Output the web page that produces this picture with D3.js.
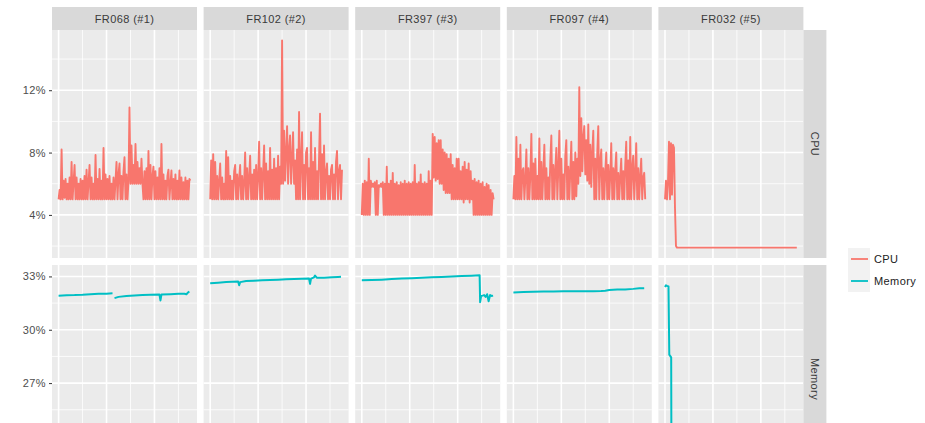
<!DOCTYPE html>
<html>
<head>
<meta charset="utf-8">
<script src="https://cdn.jsdelivr.net/npm/d3@7"></script>
<style>
  body { margin: 0; background: #fff; }
  svg { display: block; }
  text { font-family: "Liberation Sans", Arial, Helvetica, sans-serif; }
</style>
</head>
<body>
<svg id="chart" width="925" height="423"></svg>
<script>
// ---- data -------------------------------------------------------------
const servers = ["FR068 (#1)", "FR102 (#2)", "FR397 (#3)", "FR097 (#4)", "FR032 (#5)"];
const metrics = ["CPU", "Memory"];

// hourly CPU samples (%), hour 0 .. 132
const cpuFR068 = [
  5.0,5.6,5.0,8.2,5.0,6.2,5.1,6.3,5.0,6.0,
  5.0,6.4,5.0,7.4,5.0,6.1,7.2,5.0,6.4,5.0,
  6.0,5.0,6.3,5.0,6.2,5.0,6.5,5.0,6.9,5.0,
  6.1,7.2,5.0,6.4,5.0,6.0,5.0,7.85,5.0,6.3,
  5.0,6.95,5.0,6.2,5.0,8.3,5.0,6.6,5.0,6.3,
  5.0,6.5,5.0,6.0,5.0,6.4,5.0,6.2,7.4,5.0,
  6.6,7.3,5.0,6.5,5.0,6.8,7.7,5.0,6.6,5.0,
  6.2,10.9,6.0,8.45,6.0,7.2,6.0,8.55,6.0,7.4,
  6.0,7.0,6.0,7.6,6.0,5.0,6.8,5.0,7.0,5.0,
  8.1,5.0,7.2,5.0,6.5,7.1,5.0,6.8,5.0,6.4,
  5.0,7.0,5.0,8.55,5.0,6.6,5.0,6.2,5.0,6.5,
  6.9,5.0,6.0,6.85,5.0,6.3,5.0,6.6,5.0,6.2,
  5.0,6.85,5.0,6.4,5.0,6.1,5.0,6.4,5.0,6.2,
  5.0,6.3,6.2
];
const cpuFR102 = [
  5.0,7.5,5.0,7.9,5.0,7.4,5.0,6.5,5.0,6.2,
  7.3,5.0,6.4,5.0,6.0,5.0,8.1,5.0,7.7,5.0,
  6.5,5.0,6.2,5.0,6.8,7.2,5.0,6.6,5.0,6.3,
  7.2,5.0,6.5,5.0,6.1,8.0,5.0,7.0,5.0,6.4,
  7.8,5.0,6.6,5.0,6.9,5.0,7.2,5.0,6.5,8.7,
  5.0,7.0,5.0,6.7,8.45,5.0,7.3,5.0,6.8,5.0,
  8.3,5.0,6.9,5.0,7.6,5.0,7.0,5.0,7.8,5.0,
  7.1,6.0,15.2,6.0,9.4,6.2,8.0,9.7,6.0,8.2,
  9.1,6.0,7.6,9.3,6.0,7.5,5.0,8.2,5.0,10.6,
  5.0,7.5,9.3,5.0,7.2,5.0,8.0,8.3,5.0,7.0,
  5.0,9.3,5.0,7.4,5.0,8.3,5.0,6.8,5.0,7.6,
  10.5,5.0,7.9,5.0,8.45,5.0,6.7,7.3,5.0,6.5,
  5.0,6.9,7.2,5.0,6.6,5.0,7.4,8.1,5.0,6.8,
  7.2,5.0,6.9
];
const cpuFR397 = [
  4.0,6.0,4.0,6.2,4.0,6.1,4.0,7.6,4.0,6.2,
  5.8,6.0,5.8,6.1,4.0,6.2,4.0,5.9,5.8,6.0,
  5.8,6.1,4.0,6.0,4.0,7.1,4.0,6.0,4.0,6.2,
  4.0,6.7,4.0,6.0,4.0,6.1,4.0,5.9,4.0,6.1,
  4.0,6.0,4.0,6.2,4.0,6.0,4.0,6.1,4.0,6.0,
  4.0,6.1,4.0,7.2,4.0,6.0,4.0,6.1,4.0,6.6,
  4.0,6.0,4.0,6.1,4.0,6.0,4.0,6.8,4.0,6.2,
  4.0,9.2,6.4,9.0,6.2,8.6,6.3,8.8,6.0,8.8,
  6.0,8.2,5.6,8.0,5.4,7.9,5.4,7.6,5.4,7.9,
  5.0,7.2,5.0,7.0,5.0,7.6,5.0,7.6,5.0,6.8,
  5.0,7.1,4.8,7.4,5.0,6.9,5.0,7.3,4.8,6.8,
  5.0,6.2,4.0,6.3,4.0,6.1,4.0,6.2,4.0,6.0,
  4.0,6.1,4.0,5.8,4.0,6.0,4.0,5.9,4.0,5.6,
  4.0,5.4,5.0
];
const cpuFR097 = [
  5.0,6.5,5.0,9.0,5.0,7.6,5.0,8.5,5.0,6.8,
  7.0,5.0,6.3,8.2,5.0,7.0,5.0,6.6,9.2,5.0,
  7.3,5.0,7.6,5.0,6.5,5.0,8.9,5.0,7.4,5.0,
  6.8,8.5,5.0,7.0,5.0,6.4,5.0,7.5,9.1,5.0,
  7.2,5.0,6.9,8.3,5.0,7.0,9.4,5.0,7.6,5.0,
  6.6,5.0,7.8,8.8,5.0,7.1,5.0,6.8,8.7,5.0,
  7.4,5.0,8.0,5.2,7.6,6.0,12.2,6.5,10.2,6.8,
  9.0,9.7,6.6,8.8,6.2,9.8,6.0,8.5,5.8,8.0,
  9.4,5.0,7.6,5.0,8.0,9.7,5.0,7.4,8.2,5.0,
  7.0,5.0,6.8,8.0,5.0,7.2,5.0,6.6,8.6,5.0,
  7.0,5.0,6.9,8.0,5.0,6.7,5.0,6.5,7.6,5.0,
  6.8,5.0,7.2,8.7,5.0,7.5,5.0,9.0,5.0,7.0,
  7.8,5.0,6.6,8.6,5.0,7.0,5.0,6.5,7.6,5.0,
  6.4,6.7,5.0
];
const cpuFR032 = [
  5.0,6.2,5.0,6.1,8.7,5.0,8.6,5.3,8.5,8.3,
  4.5,2.0,1.9,1.9,1.9,1.9,1.9,1.9,1.9,1.9,
  1.9,1.9,1.9,1.9,1.9,1.9,1.9,1.9,1.9,1.9,
  1.9,1.9,1.9,1.9,1.9,1.9,1.9,1.9,1.9,1.9,
  1.9,1.9,1.9,1.9,1.9,1.9,1.9,1.9,1.9,1.9,
  1.9,1.9,1.9,1.9,1.9,1.9,1.9,1.9,1.9,1.9,
  1.9,1.9,1.9,1.9,1.9,1.9,1.9,1.9,1.9,1.9,
  1.9,1.9,1.9,1.9,1.9,1.9,1.9,1.9,1.9,1.9,
  1.9,1.9,1.9,1.9,1.9,1.9,1.9,1.9,1.9,1.9,
  1.9,1.9,1.9,1.9,1.9,1.9,1.9,1.9,1.9,1.9,
  1.9,1.9,1.9,1.9,1.9,1.9,1.9,1.9,1.9,1.9,
  1.9,1.9,1.9,1.9,1.9,1.9,1.9,1.9,1.9,1.9,
  1.9,1.9,1.9,1.9,1.9,1.9,1.9,1.9,1.9,1.9,
  1.9,1.9,1.9
];

// memory readings as [hour, %]; null marks a gap in the record
const memFR068 = [
  [0,31.92],[8,31.94],[16,31.95],[24,31.97],[32,32.0],[40,32.02],[48,32.03],[54,32.05],
  null,
  [56,31.78],[60,31.85],[68,31.9],[76,31.93],[84,31.95],[92,31.97],[101,31.98],
  [102,31.65],[103,31.98],[112,32.0],[120,32.02],[126,32.03],[128,32.0],[130,32.12],[131,32.15]
];
const memFR102 = [
  [0,32.62],[8,32.65],[16,32.68],[22,32.7],[28,32.72],[29,32.5],[30,32.68],[36,32.74],
  [44,32.76],[52,32.78],[60,32.8],[68,32.82],[76,32.84],[84,32.86],[92,32.87],[99,32.88],
  [100,32.58],[101,32.88],[104,32.95],[105,33.05],[107,32.92],[114,32.93],[122,32.95],
  [128,32.97],[131,32.98]
];
const memFR397 = [
  [0,32.78],[10,32.8],[20,32.82],[30,32.85],[40,32.88],[50,32.9],[60,32.92],[70,32.95],
  [80,32.97],[90,33.0],[100,33.02],[110,33.04],[118,33.06],[118.5,31.55],[119.5,31.9],
  [121,31.92],[122.5,31.95],[124,31.85],[125.5,32.0],[127,31.6],[128.5,31.95],[130,31.9],
  [131.5,31.92]
];
const memFR097 = [
  [0,32.1],[10,32.12],[20,32.14],[30,32.15],[40,32.15],[50,32.16],[60,32.17],[70,32.16],
  [80,32.17],[88,32.18],[92,32.2],[96,32.24],[104,32.26],[112,32.27],[120,32.3],
  [126,32.33],[131,32.34]
];
const memFR032 = [
  [0,32.4],[1,32.5],[2,32.47],[3.5,32.44],[4.3,28.6],[6.2,28.45],[6.5,21.4],[131,21.45]
];

const cpuTicks = [4, 8, 12];
const cpuMinorTicks = [2, 6, 10, 14];
const memTicks = [27, 30, 33];
const memMinorTicks = [22.5, 25.5, 28.5, 31.5];
const hourTicks = [0, 48, 96];
const hourMinorTicks = [24, 72, 120];
const hourSpan = [0, 132];

// ---- layout -----------------------------------------------------------
const svg = d3.select("#chart");
const left0 = 52, panelW = 145, gapX = 6.6;
const top0 = 7, stripH = 23, panelH = 228, gapY = 7;
const colCPU = "#F8766D", colMem = "#00BFC4";

const cpuSeries = [cpuFR068, cpuFR102, cpuFR397, cpuFR097, cpuFR032];
const memSeries = [memFR068, memFR102, memFR397, memFR097, memFR032];

function padded(ext) {
  const p = (ext[1] - ext[0]) * 0.05;
  return [ext[0] - p, ext[1] + p];
}

const cpuTop = top0 + stripH;
const memTop = cpuTop + panelH + gapY;

const yCpu = d3.scaleLinear()
  .domain(padded(d3.extent(cpuSeries.flat())))
  .range([cpuTop + panelH, cpuTop]);
const yMem = d3.scaleLinear()
  .domain(padded(d3.extent(memSeries.flat().filter(d => d).map(d => d[1]))))
  .range([memTop + panelH, memTop]);

const rows = [
  { key: "CPU", top: cpuTop, y: yCpu, major: cpuTicks, minor: cpuMinorTicks },
  { key: "Memory", top: memTop, y: yMem, major: memTicks, minor: memMinorTicks }
];

const panelLeft = i => left0 + i * (panelW + gapX);

servers.forEach((name, ci) => {
  const x0 = panelLeft(ci);
  const x = d3.scaleLinear().domain(padded(hourSpan)).range([x0, x0 + panelW]);

  // column strip
  svg.append("rect")
    .attr("x", x0).attr("y", top0).attr("width", panelW).attr("height", stripH)
    .attr("fill", "#d9d9d9");
  svg.append("text")
    .attr("x", x0 + panelW / 2).attr("y", top0 + stripH / 2 + 4)
    .attr("text-anchor", "middle")
    .attr("font-size", 11).attr("letter-spacing", 0.4)
    .attr("fill", "#3a3a3a")
    .text(name);

  rows.forEach((row, ri) => {
    const g = svg.append("g");
    g.append("rect")
      .attr("x", x0).attr("y", row.top).attr("width", panelW).attr("height", panelH)
      .attr("fill", "#ebebeb");

    const clipId = `clip-${ci}-${ri}`;
    g.append("clipPath").attr("id", clipId)
      .append("rect").attr("x", x0).attr("y", row.top).attr("width", panelW).attr("height", panelH);

    // minor grid
    g.selectAll(null).data(row.minor).enter().append("line")
      .attr("x1", x0).attr("x2", x0 + panelW)
      .attr("y1", d => row.y(d)).attr("y2", d => row.y(d))
      .attr("stroke", "#fff").attr("stroke-width", 0.8);
    g.selectAll(null).data(hourMinorTicks).enter().append("line")
      .attr("x1", d => x(d)).attr("x2", d => x(d))
      .attr("y1", row.top).attr("y2", row.top + panelH)
      .attr("stroke", "#fff").attr("stroke-width", 0.8);
    // major grid
    g.selectAll(null).data(row.major).enter().append("line")
      .attr("x1", x0).attr("x2", x0 + panelW)
      .attr("y1", d => row.y(d)).attr("y2", d => row.y(d))
      .attr("stroke", "#fff").attr("stroke-width", 1.6);
    g.selectAll(null).data(hourTicks).enter().append("line")
      .attr("x1", d => x(d)).attr("x2", d => x(d))
      .attr("y1", row.top).attr("y2", row.top + panelH)
      .attr("stroke", "#fff").attr("stroke-width", 1.6);

    if (row.key === "CPU") {
      const line = d3.line().x((d, i) => x(i)).y(d => row.y(d));
      g.append("path")
        .attr("clip-path", `url(#${clipId})`)
        .attr("d", line(cpuSeries[ci]))
        .attr("fill", "none").attr("stroke", colCPU)
        .attr("stroke-width", 1.9).attr("stroke-linejoin", "round");
    } else {
      const line = d3.line().defined(d => d).x(d => x(d[0])).y(d => row.y(d[1]));
      g.append("path")
        .attr("clip-path", `url(#${clipId})`)
        .attr("d", line(memSeries[ci]))
        .attr("fill", "none").attr("stroke", colMem)
        .attr("stroke-width", 2).attr("stroke-linejoin", "round");
    }
  });
});

// y axes on the first column
rows.forEach(row => {
  const ax = svg.append("g")
    .attr("transform", `translate(${left0},0)`)
    .call(d3.axisLeft(row.y).tickValues(row.major).tickFormat(d => d + "%")
      .tickSize(3).tickPadding(3));
  ax.select(".domain").remove();
  ax.selectAll(".tick line").attr("stroke", "#333").attr("stroke-width", 1);
  ax.selectAll(".tick text")
    .attr("font-size", 11).attr("letter-spacing", 0.4)
    .attr("fill", "#4d4d4d")
    .attr("font-family", null);
});

// row strips on the right
const stripX = panelLeft(servers.length - 1) + panelW;
rows.forEach(row => {
  svg.append("rect")
    .attr("x", stripX).attr("y", row.top).attr("width", stripH).attr("height", panelH)
    .attr("fill", "#d9d9d9");
  svg.append("text")
    .attr("transform", `translate(${stripX + stripH / 2 - 4},${row.top + panelH / 2}) rotate(90)`)
    .attr("text-anchor", "middle")
    .attr("font-size", 11).attr("letter-spacing", 0.4)
    .attr("fill", "#3a3a3a")
    .text(row.key);
});

// legend
const legend = svg.append("g").attr("transform", "translate(848,248)");
const keyH = 22;
[[metrics[0], colCPU], [metrics[1], colMem]].forEach(([label, col], i) => {
  const k = legend.append("g").attr("transform", `translate(0,${i * keyH})`);
  k.append("rect").attr("width", keyH).attr("height", keyH).attr("fill", "#f2f2f2");
  k.append("line").attr("x1", 3).attr("x2", keyH - 2).attr("y1", keyH / 2).attr("y2", keyH / 2)
    .attr("stroke", col).attr("stroke-width", 1.8);
  k.append("text").attr("x", keyH + 4).attr("y", keyH / 2 + 4)
    .attr("font-size", 11).attr("letter-spacing", 0.4).attr("fill", "#222")
    .text(label);
});
</script>
</body>
</html>
